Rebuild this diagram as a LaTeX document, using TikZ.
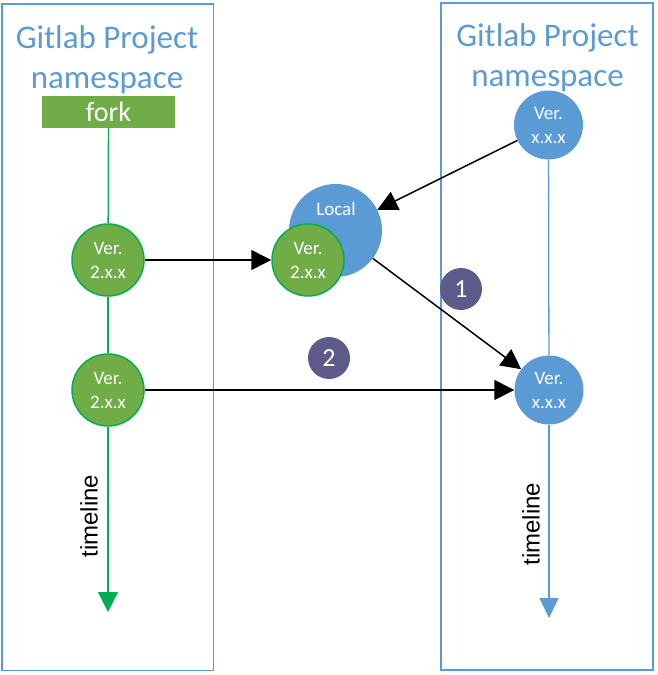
\documentclass[tikz,border=0pt]{standalone}
\usepackage{fontspec}
\setmainfont{Carlito}
\newfontfamily\arialfont{Liberation Sans}
\usetikzlibrary{arrows.meta}
\definecolor{oblue}{HTML}{5B9BD5}
\definecolor{ogreen}{HTML}{70AD47}
\definecolor{lgreen}{HTML}{00B050}
\definecolor{opurple}{HTML}{5E5A8A}
\tikzset{
  frame/.style={draw=oblue, line width=1.5pt},
  title/.style={text=oblue, font=\fontsize{33}{40}\selectfont, anchor=base, inner sep=0pt},
  greencirc/.style={circle, fill=ogreen, draw=lgreen, line width=1.5pt, minimum size=72pt, inner sep=0pt, text=white, align=center, font=\fontsize{19}{24}\selectfont},
  bluecirc/.style={circle, fill=oblue, minimum size=69pt, inner sep=0pt, text=white, align=center, font=\fontsize{19}{24}\selectfont},
  numcirc/.style={circle, fill=opurple, minimum size=42pt, inner sep=0pt, text=white, font=\fontsize{26}{30}\selectfont},
  arr/.style={draw=black, line width=1.5pt, -{Triangle[length=20pt,width=20pt]}},
  gline/.style={draw=lgreen, line width=1.3pt},
  bline/.style={draw=oblue, line width=1.3pt},
  tltext/.style={rotate=90, font=\arialfont\fontsize{24}{28}\selectfont, inner sep=0pt}
}
\begin{document}
\begin{tikzpicture}[x=1pt,y=-1pt]
\useasboundingbox (0,0) rectangle (657,675);
% frames
\draw[frame] (2,4) rectangle (213.5,670.5);
\draw[frame] (441,3) rectangle (653,670);
% titles
\node[title] (t1a) at (107,48) {Gitlab Project};
\node[title] (t1b) at (107,88) {namespace};
\node[title] (t2a) at (547.5,46) {Gitlab Project};
\node[title] (t2b) at (547.5,86) {namespace};
% fork
\node[fill=ogreen, minimum width=133pt, minimum height=32pt, inner sep=0pt, text=white, font=\fontsize{28}{30}\selectfont, text height=19pt, text depth=1pt] (fork) at (108.5,112) {fork};
% left column
\node[greencirc] (g1) at (108,260) {Ver.\\2.x.x};
\node[greencirc] (g2) at (108,390) {Ver.\\2.x.x};
\coordinate (gend) at (108,612);
\draw[gline] (fork) -- (g1);
\draw[gline] (g1) -- (g2);
\draw[gline, -{Triangle[length=20pt,width=20pt]}] (g2) -- (gend);
\node[tltext] (tl1) at (89,516) {timeline};
% local
\node[circle, fill=oblue, minimum size=93pt, inner sep=0pt] (local) at (335.5,230.5) {};
\node[text=white, font=\fontsize{19}{22}\selectfont, anchor=base, inner sep=0pt] (localtxt) at (336,215) {Local};
\node[greencirc] (g1b) at (308,260) {Ver.\\2.x.x};
% right column
\node[bluecirc] (r1) at (548.5,125) {Ver.\\x.x.x};
\node[bluecirc] (r2) at (549,390) {Ver.\\x.x.x};
\coordinate (bend) at (549,618);
\draw[bline] (r1) -- (r2);
\draw[bline, -{Triangle[length=20pt,width=19pt]}] (r2) -- (bend);
\node[tltext] (tl2) at (531,524) {timeline};
% numbers
\node[numcirc] (n1) at (461,289) {1};
\node[numcirc] (n2) at (329,358) {2};
% arrows
\draw[arr] (g1) -- (g1b);
\draw[arr] (r1) -- (local);
\draw[arr] (local) -- (r2);
\draw[arr] (g2) -- (r2);
\end{tikzpicture}
\end{document}
